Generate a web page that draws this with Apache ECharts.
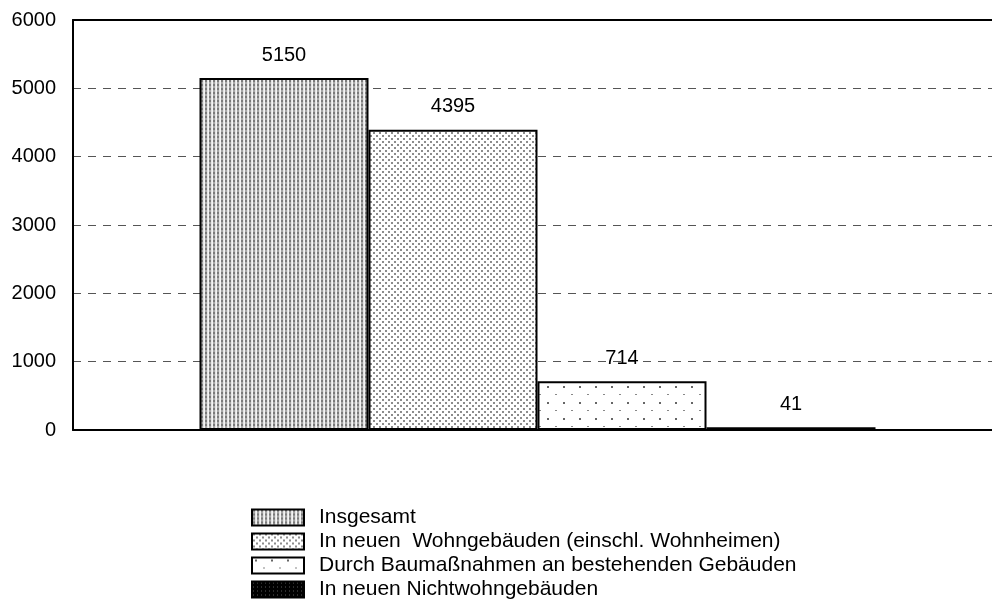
<!DOCTYPE html>
<html>
<head>
<meta charset="utf-8">
<script src="https://cdn.jsdelivr.net/npm/echarts@6/dist/echarts.min.js"></script>
<style>
html,body{margin:0;padding:0;background:#fff;}
#chart{width:992px;height:612px;}
</style>
</head>
<body>
<div id="chart"></div>
<script>
const categories = [''];
const seriesNames = [
  'Insgesamt',
  'In neuen  Wohngebäuden (einschl. Wohnheimen)',
  'Durch Baumaßnahmen an bestehenden Gebäuden',
  'In neuen Nichtwohngebäuden'
];
const seriesValues = [[5150], [4395], [714], [41]];
const yTicks = [0, 1000, 2000, 3000, 4000, 5000, 6000];

function makePattern(w, h, bg, dots) {
  const c = document.createElement('canvas');
  c.width = w; c.height = h;
  const ctx = c.getContext('2d');
  ctx.fillStyle = bg; ctx.fillRect(0, 0, w, h);
  dots.forEach(d => { ctx.fillStyle = d[4]; ctx.fillRect(d[0], d[1], d[2], d[3]); });
  return { image: c, repeat: 'repeat' };
}
const patterns = [
  makePattern(4, 4, '#e4e4e4', [[1,0,2,2,'#7a7a7a'],[1,2,2,2,'#a8a8a8'],[0,0,1,4,'#f4f4f4']]),
  makePattern(6, 6, '#ffffff', [[1,0,2,2,'#8c8c8c'],[4,3,2,2,'#8c8c8c']]),
  makePattern(16, 16, '#ffffff', [[3,2,2,2,'#666666'],[11,10,2,1,'#888888']]),
  makePattern(4, 4, '#000000', [[1,1,1,1,'#5a5a5a']])
];

const chart = echarts.init(document.getElementById('chart'), null, {renderer: 'canvas'});
const font = 'Liberation Sans, Arial, sans-serif';
chart.setOption({
  animation: false,
  textStyle: { fontFamily: font },
  grid: { left: 73, top: 20, width: 929, height: 410, containLabel: false, outerBoundsMode: 'none' },
  legend: {
    orient: 'vertical', left: 246, top: 502,
    icon: 'rect',
    itemWidth: 52, itemHeight: 16, itemGap: 3,
    textStyle: { fontSize: 21, lineHeight: 20, color: '#000', fontFamily: font, padding: [0, 0, 0, 10] },
    data: seriesNames
  },
  xAxis: [{
    type: 'category', data: categories,
    axisLine: { show: true, lineStyle: { color: '#000', width: 2 } },
    axisTick: { show: false }, axisLabel: { show: false }
  }, {
    type: 'category', data: categories, position: 'top',
    axisLine: { show: true, lineStyle: { color: '#000', width: 2 } },
    axisTick: { show: false }, axisLabel: { show: false }
  }],
  yAxis: {
    type: 'value', min: 0, max: 6000, interval: 1000,
    axisLine: { show: true, lineStyle: { color: '#000', width: 2 } },
    axisTick: { show: false },
    axisLabel: { fontSize: 20, color: '#000', margin: 17, fontFamily: font,
      formatter: v => yTicks.includes(v) ? String(v) : '' },
    splitLine: { show: true, lineStyle: { color: '#555', width: 1, type: [8, 7] } }
  },
  series: seriesNames.map((name, i) => ({
    name, type: 'bar', data: seriesValues[i],
    barWidth: 169, barGap: '0%',
    itemStyle: { color: patterns[i], borderColor: '#000', borderWidth: 2 },
    label: { show: true, position: 'top', distance: 13, fontSize: 20, color: '#000', fontFamily: font }
  }))
});
</script>
</body>
</html>
